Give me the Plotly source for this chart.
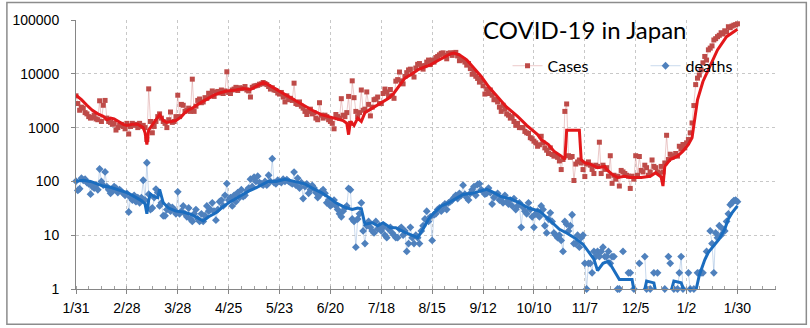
import pandas as pd
import plotly.graph_objects as go

START = "2021-01-31"

# Daily reported cases (one value per day from 2021-01-31)
cases_daily = [
    3900, 2800, 2100, 2400, 2300, 1900, 1800,
    1600, 1500, 1550, 1700, 1450, 1400, 3150,
    1300, 2600, 3200, 1500, 1300, 1250, 1150,
    1200, 900, 1000, 1100, 1150, 1050, 950,
    1200, 760, 1050, 1200, 1100, 1150, 1000,
    1200, 1050, 1100, 1000, 600, 5250, 1300,
    800, 1050, 1300, 1600, 1800, 1500, 1300,
    1200, 1000, 1400, 1950, 1250, 1300, 1600,
    4000, 1600, 2700, 2600, 2000, 2100, 2300,
    2000, 7950, 2000, 2500, 3200, 3400, 2900,
    3000, 3600, 3500, 4350, 4200, 4800, 3800,
    4500, 4700, 4400, 5000, 4300, 4800, 10900,
    4500, 4300, 5000, 5200, 5600, 4900, 5500,
    5300, 5400, 5800, 5000, 4800, 3700, 5600,
    5900, 6000, 6100, 6400, 6500, 6900, 6600,
    6300, 5800, 5200, 5500, 5000, 4900, 4400,
    4200, 4500, 3700, 3000, 3900, 3300, 3500,
    3200, 6700, 2800, 2700, 3000, 2500, 2300,
    2000, 1750, 2000, 2200, 1800, 1900, 1500,
    1400, 2900, 1700, 1500, 1700, 1600, 1400,
    1300, 1200, 950, 1750, 1600, 1500, 3450,
    1700, 1600, 1900, 3800, 1200, 7400, 3600,
    2000, 1600, 1900, 5000, 2100, 2200, 4600,
    2700, 1650, 2400, 3300, 3400, 3700, 2800,
    2800, 4300, 5200, 4600, 3800, 5100, 3900,
    3500, 7300, 7800, 10800, 7400, 6500, 8900,
    10500, 11800, 12200, 10000, 8700, 12800, 15000,
    15500, 14000, 12200, 14200, 16500, 18000, 14800,
    18000, 16500, 20000, 21000, 22500, 24000, 24500,
    22000, 19000, 24000, 24500, 22000, 24500, 25000,
    21500, 17500, 19000, 18000, 16500, 14500, 15500,
    12500, 9800, 11000, 9000, 8200, 7000, 7500,
    6000, 4200, 5200, 4300, 5000, 4000, 3300,
    3300, 3000, 2400, 2000, 2600, 2200, 1800,
    1700, 1500, 1600, 1300, 1100, 1200, 1000,
    1000, 1000, 850, 800, 780, 650, 620,
    560, 520, 450, 480, 690, 520, 420,
    380, 330, 420, 316, 295, 300, 280,
    240, 166, 255, 2000, 2750, 300, 280,
    290, 104, 210, 230, 250, 220, 166,
    123, 210, 230, 200, 167, 140, 200,
    190, 535, 140, 200, 167, 180, 125,
    300, 92, 130, 110, 125, 82, 160,
    150, 140, 130, 125, 74, 125, 110,
    300, 130, 290, 160, 150, 200, 180,
    130, 150, 250, 190, 180, 150, 140,
    190, 150, 220, 720, 255, 320, 280,
    300, 330, 295, 450, 400, 485, 420,
    520, 600, 800, 1220, 2570, 6300, 8300,
    9500, 11800, 16000, 21000, 18000, 27900, 30000,
    33000, 42500, 45000, 49000, 52000, 58000, 55000,
    63000, 60000, 75000, 72000, 77000, 80000, 82000,
    85000,
]

# Daily reported deaths (one value per day from 2021-01-31)
deaths_daily = [
    101, 68, 73, 115, 105, 110, 95,
    90, 58, 80, 75, 85, 70, 170,
    100, 85, 150, 80, 70, 60, 65,
    80, 75, 62, 70, 65, 60, 55,
    60, 27, 50, 45, 55, 42, 50,
    40, 50, 105, 45, 222, 58, 30,
    32, 50, 72, 62, 35, 40, 23,
    23, 30, 35, 28, 33, 30, 25,
    64, 25, 28, 35, 25, 22, 32,
    20, 18, 25, 30, 20, 18, 25,
    18, 23, 35, 28, 30, 40, 28,
    19, 30, 42, 45, 35, 55, 91,
    45, 50, 35, 55, 42, 62, 50,
    70, 52, 55, 68, 75, 110, 80,
    120, 100, 125, 95, 90, 85, 100,
    85, 130, 100, 265, 95, 90, 105,
    100, 95, 110, 100, 108, 100, 95,
    90, 149, 85, 115, 75, 95, 48,
    80, 90, 60, 70, 84, 75, 62,
    50, 55, 65, 70, 60, 40, 45,
    35, 38, 45, 35, 30, 25, 22,
    28, 32, 35, 74, 70, 20, 18,
    6, 20, 25, 40, 12, 7, 15,
    18, 14, 12, 11, 18, 13, 15,
    12, 14, 10, 9, 13, 14, 11,
    10, 9, 9, 13, 14, 10, 12,
    5, 7, 14, 9, 7, 10, 9,
    7, 12, 15, 20, 28, 18, 22,
    8, 24, 25, 30, 32, 28, 35,
    38, 30, 40, 42, 45, 50, 55,
    48, 60, 55, 85, 58, 50, 45,
    60, 70, 80, 55, 88, 90, 70,
    65, 58, 60, 75, 62, 38, 50,
    55, 60, 45, 48, 40, 55, 42,
    38, 45, 35, 48, 30, 35, 40,
    14, 33, 28, 25, 40, 30, 22,
    14, 25, 28, 22, 35, 30, 15,
    11, 20, 26, 18, 11, 10, 9,
    10, 8, 5, 18, 16, 12, 15,
    24, 7, 7, 10, 6, 9, 10,
    3, 1, 3, 3, 2, 5, 4,
    5, 4, 5, 6, 4, 4, 5,
    3, 4, 4, 0, 1, 1, 0,
    5, 0, 0, 2, 2, 0, 1,
    0, 0, 3, 0, 0, 4, 1,
    0, 1, 0, 2, 0, 2, 0,
    0, 0, 1, 0, 4, 3, 0,
    1, 0, 1, 2, 4, 1, 0,
    0, 2, 1, 0, 1, 0, 2,
    2, 2, 2, 0, 5, 0, 12,
    7, 2, 11, 9, 15, 10, 13,
    12, 18, 25, 37, 40, 44, 45,
    42,
]

# Smoothed (average) lines, read at key days (day offset from 2021-01-31)
cases_avg_day = [0, 3, 6, 9, 12, 15, 17, 19, 21, 24, 26, 28, 31, 34, 37, 38, 39, 40, 42, 44, 46, 48, 50, 53, 55,
                 58, 60, 62, 64, 67, 70, 73, 76, 79, 83, 88, 92, 96, 99, 101, 103, 105, 108, 112, 117, 121, 126,
                 130, 135, 140, 144, 147, 149, 150, 151, 153, 155, 157, 159, 162, 165, 168, 172, 175, 178, 181,
                 185, 188, 192, 195, 199, 203, 206, 208, 211, 215, 219, 223, 227, 232, 237, 243, 248, 254, 256,
                 260, 263, 267, 269, 270, 277, 278, 280, 283, 287, 291, 292, 295, 298, 302, 305, 311, 316, 319,
                 322, 323, 324, 327, 331, 334, 337, 339, 340, 341, 342, 345, 349, 353, 358, 364]
cases_avg_val = [4000, 3300, 2600, 2100, 1800, 1620, 1400, 1500, 1450, 1250, 1150, 1100, 1150, 1150, 1000, 800,
                 485, 900, 1150, 1400, 1740, 1350, 1250, 1300, 1350, 1600, 1900, 2150, 2300, 2700, 3100, 3600,
                 4000, 4400, 4800, 5000, 5300, 5100, 5800, 6300, 6900, 6500, 5650, 4700, 3800, 3100, 2470, 2100,
                 1740, 1550, 1410, 1350, 1200, 740, 1300, 1100, 1500, 1300, 1900, 2200, 2500, 2870, 3500, 4400,
                 6200, 8300, 10000, 11800, 13500, 14700, 17500, 21000, 23500, 24200, 22500, 18200, 13000, 8900,
                 5800, 3800, 2400, 1620, 1100, 740, 600, 485, 365, 295, 255, 890, 890, 255, 222, 210, 180, 190,
                 167, 135, 118, 125, 118, 118, 125, 145, 120, 82, 190, 255, 295, 365, 485, 650, 1200, 2200,
                 3300, 7200, 13700, 27800, 49000, 67000]

deaths_avg_day = [0, 4, 8, 12, 15, 19, 22, 26, 28, 31, 33, 36, 38, 39, 40, 41, 43, 45, 46, 48, 51, 55, 59, 63,
                  67, 70, 73, 77, 80, 84, 88, 92, 95, 99, 103, 106, 110, 115, 120, 126, 130, 135, 140, 143, 148,
                  152, 155, 157, 159, 163, 166, 169, 173, 176, 181, 185, 188, 191, 194, 197, 201, 205, 209, 213,
                  218, 222, 226, 230, 234, 239, 244, 249, 255, 260, 266, 270, 274, 279, 283, 285, 287, 290, 293,
                  296, 299, 306, 308, 312, 314, 318, 320, 326, 329, 333, 336, 338, 341, 343, 346, 348, 352, 354,
                  357, 359, 361, 364]
deaths_avg_val = [101, 105, 100, 90, 82, 78, 73, 66, 62, 55, 50, 44, 38, 25, 45, 58, 52, 50, 71, 40, 32, 28, 27,
                  24.5, 21, 18.4, 22, 26, 32, 40, 48, 58, 66, 76, 90, 101, 100, 110, 100, 90, 75, 62, 48, 40, 33,
                  30, 32, 31, 16, 17, 15, 17, 13.8, 13.8, 11.3, 9.8, 9, 13, 20, 26, 35, 40, 48, 57, 60, 66, 71,
                  62, 52, 48, 40, 32, 28, 20, 12.9, 11, 9.1, 6.8, 4.5, 3.6, 2.2, 3, 3.3, 2.2, 1.5, 1.5, 0.6, 0.7,
                  1.4, 1.3, 0.6, 0.6, 1.4, 1.3, 0.7, 1.0, 0.9, 1.8, 3.5, 4.8, 7, 8.5, 13, 20, 26, 35]

tick_labels = ["1/31", "2/28", "3/28", "4/25", "5/23", "6/20", "7/18", "8/15",
               "9/12", "10/10", "11/7", "12/5", "1/2", "1/30"]
y_tick_labels = ["1", "10", "100", "1000", "10000", "100000"]

start = pd.Timestamp(START)
dates = pd.date_range(START, periods=len(cases_daily), freq="D")
cases_avg_x = [start + pd.Timedelta(days=d) for d in cases_avg_day]
deaths_avg_x = [start + pd.Timedelta(days=d) for d in deaths_avg_day]
tick_dates = [start + pd.Timedelta(days=28 * i) for i in range(len(tick_labels))]

FONT = "Lato, 'Open Sans', sans-serif"
TICKFONT = "'Liberation Sans', Arial, sans-serif"
deaths_plot = [v if v > 0 else None for v in deaths_daily]

fig = go.Figure()
fig.add_trace(go.Scatter(
    x=dates, y=cases_daily, name="Cases", mode="lines+markers",
    line=dict(color="rgba(205,120,120,0.40)", width=1),
    marker=dict(symbol="square", size=5, color="#BE4B48"),
))
fig.add_trace(go.Scatter(
    x=dates, y=deaths_plot, name="deaths", mode="lines+markers",
    line=dict(color="rgba(120,160,210,0.40)", width=1),
    marker=dict(symbol="diamond", size=6, color="#4F81BD"),
    cliponaxis=False, connectgaps=False,
))
fig.add_trace(go.Scatter(
    x=cases_avg_x, y=cases_avg_val, mode="lines", showlegend=False,
    line=dict(color="#E3171A", width=3), hoverinfo="skip",
))
fig.add_trace(go.Scatter(
    x=deaths_avg_x, y=deaths_avg_val, mode="lines", showlegend=False,
    line=dict(color="#1B6DBF", width=3), hoverinfo="skip",
))

fig.update_layout(
    width=810, height=328,
    margin=dict(l=72, r=34, t=20, b=38),
    paper_bgcolor="white", plot_bgcolor="white",
    font=dict(family=FONT, size=14, color="#000000"),
    legend=dict(
        orientation="h", x=(506 - 72) / 704, y=(290 - 66) / 270,
        xanchor="left", yanchor="middle",
        font=dict(family=FONT, size=16, color="#000000"),
        entrywidth=93, entrywidthmode="pixels",
        bgcolor="rgba(0,0,0,0)", borderwidth=0,
    ),
    xaxis=dict(
        type="date",
        range=[start, start + pd.Timedelta(days=385.2)],
        tickmode="array", tickvals=tick_dates, ticktext=tick_labels,
        ticks="outside", ticklen=4, tickcolor="#868686",
        showline=True, linecolor="#868686", linewidth=1,
        showgrid=True, gridcolor="#C8C8C8", griddash="dot", gridwidth=1,
        tickfont=dict(family=TICKFONT, size=14, color="#000000"),
        ticklabelstandoff=2,
        minor=dict(dtick=7 * 86400000, tick0=START, ticks="inside", ticklen=3,
                   tickcolor="#A0A0A0", showgrid=False),
        zeroline=False,
    ),
    yaxis=dict(
        type="log", range=[0, 5],
        tickmode="array", tickvals=[1, 10, 100, 1000, 10000, 100000], ticktext=y_tick_labels,
        ticks="outside", ticklen=4, tickcolor="#868686",
        showline=True, linecolor="#868686", linewidth=1,
        showgrid=True, gridcolor="#C8C8C8", griddash="dot", gridwidth=1,
        tickfont=dict(family=TICKFONT, size=14, color="#000000"),
        ticklabelstandoff=9,
        zeroline=False,
    ),
    annotations=[dict(
        text="COVID-19 in Japan", xref="paper", yref="paper",
        x=(479 - 72) / 704, y=(290 - 30) / 270, xanchor="left", yanchor="middle",
        showarrow=False, font=dict(family=FONT, size=24, color="#000000"),
    )],
    shapes=[dict(
        type="rect", xref="paper", yref="paper",
        x0=(2.5 - 72) / 704, x1=(806.5 - 72) / 704,
        y0=(290 - 325.5) / 270, y1=(290 - 2.5) / 270,
        line=dict(color="#8C8C8C", width=1.5), fillcolor="rgba(0,0,0,0)", layer="below",
    )],
)

fig.write_html("out.html")
